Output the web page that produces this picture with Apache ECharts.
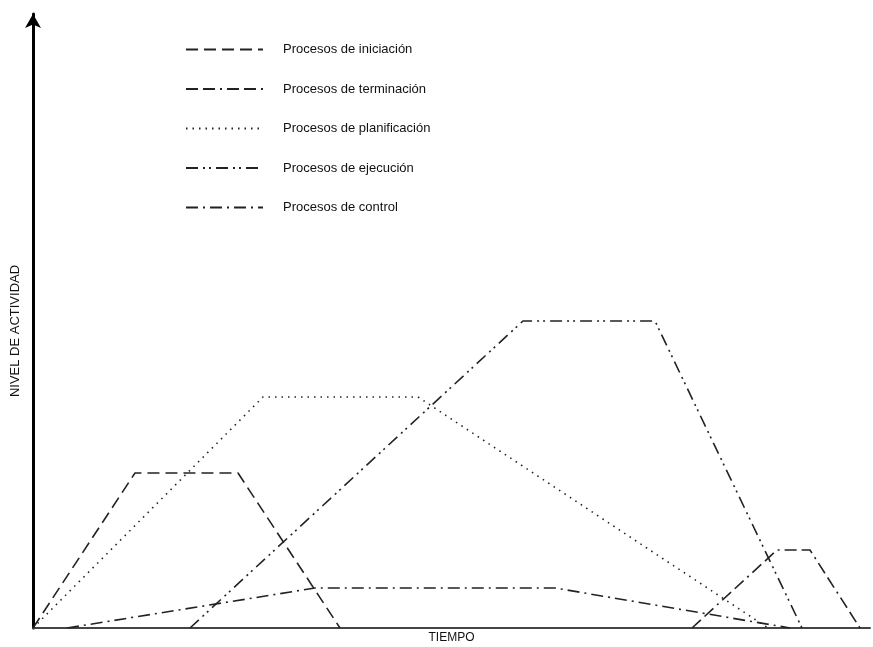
<!DOCTYPE html>
<html>
<head>
<meta charset="utf-8">
<script src="https://cdn.jsdelivr.net/npm/echarts@6/dist/echarts.min.js"></script>
<style>html,body{margin:0;padding:0;background:#fff;}#c{width:873px;height:647px;}</style>
</head>
<body>
<div id="c"></div>
<script>
// Values (time units, activity units)
const seriesNames = ["Procesos de iniciación","Procesos de terminación","Procesos de planificación","Procesos de ejecución","Procesos de control"];
const iniciacion   = [[0,0],[102,155],[205,155],[307,0]];
const terminacion  = [[659,0],[744,78],[777,78],[827,0]];
const planificacion= [[0,0],[230,231],[385,231],[735,0]];
const ejecucion    = [[157,0],[490,307],[622,307],[769,0]];
const control      = [[34,0],[282,40],[522,40],[757,0]];
const xTitle = "TIEMPO";
const yTitle = "NIVEL DE ACTIVIDAD";

const dashTypes = [[12,6],[12,5,12,5,2,5],[1.5,5],[12,5,2,4,2,5],[12,5,2,5]];
const dataSets = [iniciacion, terminacion, planificacion, ejecucion, control];

const chart = echarts.init(document.getElementById('c'));
chart.setOption({
  animation:false,
  textStyle:{fontFamily:'Liberation Sans, Arial, sans-serif'},
  grid:{left:33,right:3,top:14,bottom:19,outerBoundsMode:'none',containLabel:false},
  legend:{
    orient:'vertical', left:185, top:43, padding:0,
    itemWidth:77, itemHeight:14, itemGap:26.5,
    itemStyle:{color:'rgba(0,0,0,0)',borderWidth:0,opacity:0},
    textStyle:{fontSize:13,color:'#111',padding:[0,0,0,15]},
    data:seriesNames
  },
  graphic:[{
    type:'text', x:15, y:331, rotation:Math.PI/2,
    style:{text:yTitle, fontSize:13, fill:'#111', fontFamily:'Liberation Sans, Arial, sans-serif', align:'center', verticalAlign:'middle'}
  }],
  xAxis:{
    type:'value', min:0, max:837,
    name:xTitle, nameLocation:'middle', nameGap:4,
    nameTextStyle:{fontSize:12,color:'#111',verticalAlign:'top'},
    axisLine:{lineStyle:{color:'#444',width:2}},
    axisTick:{show:false}, axisLabel:{show:false}, splitLine:{show:false}
  },
  yAxis:{
    type:'value', min:0, max:614,
    axisLine:{show:true,symbol:['none','arrow'],symbolSize:[12,14],lineStyle:{color:'#000',width:3}},
    axisTick:{show:false}, axisLabel:{show:false}, splitLine:{show:false}
  },
  series: seriesNames.map((n,i)=>({
    name:n, type:'line', data:dataSets[i], symbol:'none',
    lineStyle:{color:'#222',width:1.6,type:dashTypes[i]},
    itemStyle:{color:'#222'}
  }))
});
</script>
</body>
</html>
